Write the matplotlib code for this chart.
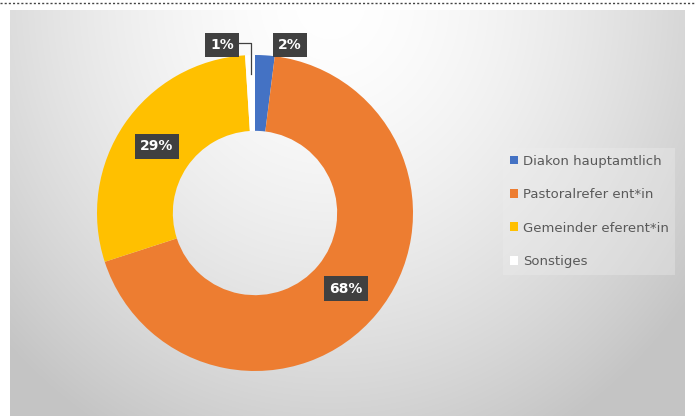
import numpy as np
import matplotlib
matplotlib.use("Agg")
import matplotlib.pyplot as plt
from matplotlib.lines import Line2D

# Data
categories = ["Diakon hauptamtlich", "Pastoralreferent*in", "Gemeindereferent*in", "Sonstiges"]
shares = [2, 68, 29, 1]
colors = ["#4472C4", "#ED7D31", "#FFC000", "#FFFFFF"]
legend_labels = ["Diakon hauptamtlich", "Pastoralrefer ent*in", "Gemeinder eferent*in", "Sonstiges"]

W, H = 695, 416
fig = plt.figure(figsize=(W / 100, H / 100), dpi=100)
fig.patch.set_facecolor("white")

# Background panel with a soft radial gradient
bg = fig.add_axes([10 / W, 0, 675 / W, 406 / H])
yy, xx = np.mgrid[0:406, 0:675]
cx, cy = 320.0, -10.0
d = np.sqrt(((xx - cx) / 400.0) ** 2 + ((yy - cy) / 440.0) ** 2)
val = np.clip(1.0 - 0.19 * d ** 1.6, 0.77, 1.0)
bg.imshow(np.dstack([val, val, val]), aspect="auto", interpolation="bilinear",
          extent=[0, 1, 0, 1], origin="upper")
bg.set_axis_off()

# Dotted rule along the top
fig.add_artist(Line2D([0, 1], [1 - 3 / H, 1 - 3 / H], transform=fig.transFigure,
                      color="#444444", lw=1.0, ls=(0, (1.5, 1.5))))

# Donut
cxp, cyp, R = 255, 213, 158
ax = fig.add_axes([(cxp - R) / W, (H - cyp - R) / H, 2 * R / W, 2 * R / H])
wedges, _ = ax.pie(shares, colors=colors, startangle=90, counterclock=False,
                   radius=1.0, wedgeprops=dict(width=0.48, edgecolor="none"))
ax.set_xlim(-1, 1)
ax.set_ylim(-1, 1)
ax.set_aspect("auto")
ax.set_axis_off()

box = dict(boxstyle="square,pad=0.38", facecolor="#404040", edgecolor="none")

def label(x, y, s):
    ax.text(x, y, s, ha="center", va="center", fontsize=10, color="white",
            fontweight="bold", bbox=box)

# Label positions: large slices inside the ring, small ones above it
cum = np.cumsum([0] + shares)
for i, v in enumerate(shares):
    mid = 90 - 360 * (cum[i] + v / 2) / 100
    if v >= 10:
        r = 0.75
        x, y = r * np.cos(np.radians(mid)), r * np.sin(np.radians(mid))
    elif i == 0:
        x, y = 0.222, 1.063
    else:
        x, y = -0.209, 1.063
        ax.plot([-0.12, -0.025, -0.025], [1.075, 1.075, 0.88], color="#404040",
                lw=0.9, clip_on=False)
    label(x, y, f"{v}%")

# Legend
handles = [plt.Rectangle((0, 0), 1, 1, facecolor=c, edgecolor="none") for c in colors]
leg = fig.legend(handles, legend_labels, loc="upper left",
                 bbox_to_anchor=(503 / W, 1 - 148 / H), frameon=True,
                 fontsize=9.5, labelcolor="#595959", handlelength=0.65,
                 handleheight=0.65, handletextpad=0.35, labelspacing=1.55,
                 borderpad=0.5, borderaxespad=0)
leg.get_frame().set_facecolor("#eeeeee")
leg.get_frame().set_edgecolor("none")
leg.get_frame().set_alpha(0.35)
leg.get_frame().set_boxstyle("square,pad=0")

fig.savefig("out.png", dpi=100)
